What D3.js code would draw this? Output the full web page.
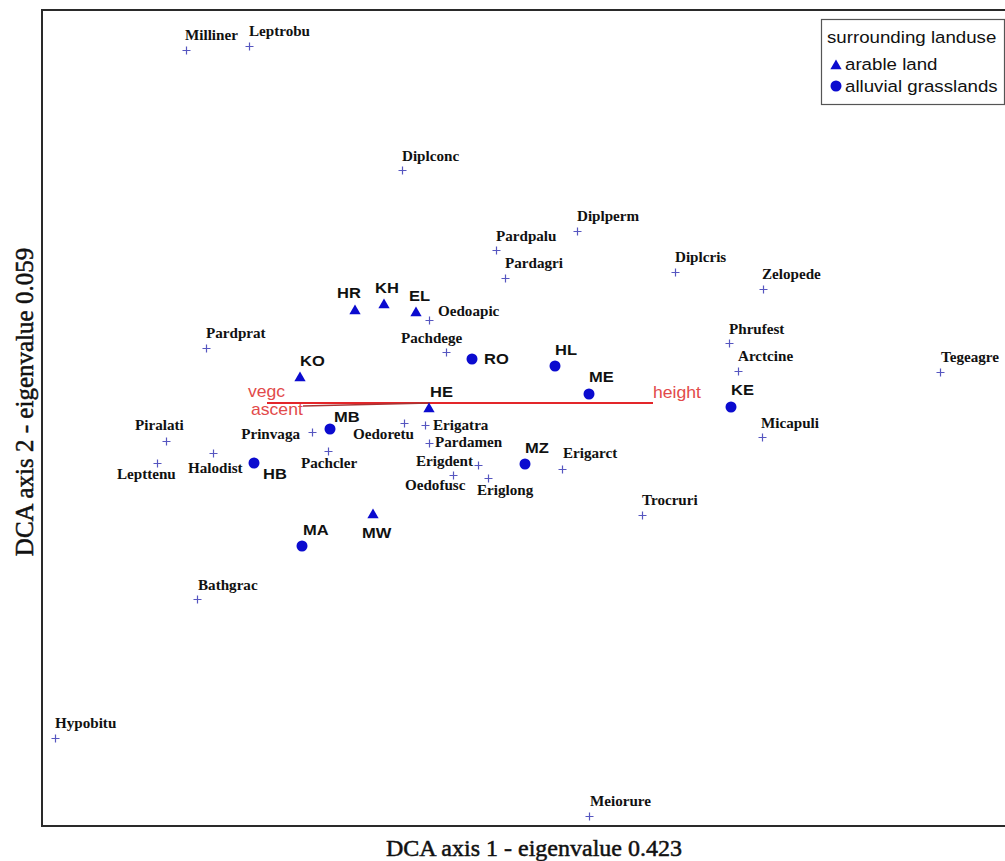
<!DOCTYPE html>
<html>
<head>
<meta charset="utf-8">
<script src="https://cdn.jsdelivr.net/npm/d3@7"></script>
<style>
  html, body { margin: 0; padding: 0; background: #fff; }
  svg { display: block; }
</style>
</head>
<body>
<svg id="chart" width="1005" height="861"></svg>
<script>
// DCA ordination: species scores (crosses)
const speciesNames = ["Milliner","Leptrobu","Diplconc","Pardpalu","Pardagri","Diplperm","Diplcris","Zelopede",
  "Oedoapic","Pardprat","Pachdege","Phrufest","Arctcine","Tegeagre","Micapuli","Piralati","Lepttenu","Halodist",
  "Prinvaga","Pachcler","Oedoretu","Erigatra","Pardamen","Erigdent","Oedofusc","Eriglong","Erigarct","Trocruri",
  "Bathgrac","Hypobitu","Meiorure"];
const speciesAxis1 = [0.72,1.035,1.80,2.27,2.315,2.675,3.165,3.605,
  1.935,0.82,2.02,3.435,3.48,4.49,3.60,0.62,0.575,0.855,
  1.35,1.43,1.81,1.915,1.935,2.18,2.055,2.23,2.60,3.00,
  0.775,0.065,2.735];
const speciesAxis2 = [3.88,3.90,3.28,2.88,2.74,2.975,2.77,2.685,
  2.53,2.39,2.37,2.415,2.275,2.27,1.945,1.925,1.815,1.865,
  1.97,1.875,2.015,2.005,1.915,1.805,1.755,1.74,1.785,1.555,
  1.135,0.44,0.05];

// Sample sites, grouped by surrounding land use
const siteNames = ["HR","KH","EL","KO","HE","MW","RO","HL","ME","KE","MZ","MB","HB","MA"];
const siteAxis1 = [1.565,1.71,1.87,1.29,1.935,1.655,2.15,2.565,2.735,3.445,2.415,1.44,1.06,1.30];
const siteAxis2 = [2.575,2.605,2.565,2.24,2.085,1.555,2.335,2.30,2.16,2.095,1.81,1.985,1.815,1.40];
const siteLanduse = ["arable","arable","arable","arable","arable","arable",
  "alluvial","alluvial","alluvial","alluvial","alluvial","alluvial","alluvial","alluvial"];

// Environmental variables (fitted vectors from the centroid)
const envNames = ["height","vegc","ascent"];
const envAxis1 = [3.055,1.125,1.305];
const envAxis2 = [2.115,2.115,2.1];
const envOrigin = [1.94, 2.115];

const legendTitle = "surrounding landuse";
const legendLabels = {arable: "arable land", alluvial: "alluvial grasslands"};
const xTitle = "DCA axis 1 - eigenvalue 0.423";
const yTitle = "DCA axis 2 - eigenvalue 0.059";

// ---- layout ----
const svg = d3.select("#chart");
const x = d3.scaleLinear().domain([0, 4.815]).range([42, 1005]);
const y = d3.scaleLinear().domain([0, 4.08]).range([826, 10]);

// label placement: [dx, dy, anchor]
const speciesLabelPos = {
  Milliner:[-1,-10], Leptrobu:[0,-10], Diplconc:[0,-9], Pardpalu:[0,-9], Pardagri:[0,-10],
  Diplperm:[0,-10], Diplcris:[0,-10], Zelopede:[-1,-10], Oedoapic:[9,-4], Pardprat:[0,-10],
  Pachdege:[-45,-9], Phrufest:[0,-9], Arctcine:[0,-10], Tegeagre:[1,-10], Micapuli:[-1,-9],
  Piralati:[-31,-11], Lepttenu:[-40,16], Halodist:[-25,20], Prinvaga:[-12,7,"end"],
  Pachcler:[-27,17], Oedoretu:[-51,16], Erigatra:[8,5], Pardamen:[6,4], Erigdent:[-5,1,"end"],
  Oedofusc:[-48,15], Eriglong:[-11,17], Erigarct:[1,-11], Trocruri:[0,-10], Bathgrac:[1,-9],
  Hypobitu:[0,-10], Meiorure:[1,-10]
};
const siteLabelPos = {
  HR:[-18,-13], KH:[-9,-12], EL:[-7,-12], KO:[0,-12], HE:[1,-12], MW:[-11,23],
  RO:[12,5], HL:[0,-11], ME:[0,-12], KE:[0,-12], MZ:[0,-11], MB:[4,-7], HB:[9,16], MA:[1,-11]
};
const envLabelPos = { height:[0,-5], vegc:[-19,-6], ascent:[-52,9] };

const markColor = "#0b0bcf";
const crossColor = "#5656c0";
const envColor = "#e3262a";
const envLabelColor = "#e24a4a";

// text with a slight horizontal widening
function placeText(g, tx, ty, sx, txt, anchor) {
  return g.append("text")
    .attr("transform", `translate(${tx},${ty}) scale(${sx},1)`)
    .attr("text-anchor", anchor || "start")
    .text(txt);
}

// frame (left, top, bottom)
svg.append("path")
  .attr("d", `M${x.range()[1] + 2},${y.range()[1]} H${x.range()[0]} V${y.range()[0]} H${x.range()[1] + 2}`)
  .attr("fill", "none").attr("stroke", "#2a2a2a").attr("stroke-width", 2);

// environmental vectors
const envG = svg.append("g");
envNames.forEach((n, i) => {
  envG.append("line")
    .attr("x1", x(envOrigin[0])).attr("y1", y(envOrigin[1]))
    .attr("x2", x(envAxis1[i])).attr("y2", y(envAxis2[i]))
    .attr("stroke", n === "ascent" ? "#a83434" : envColor)
    .attr("stroke-width", n === "ascent" ? 1.4 : 2);
});
const envText = svg.append("g")
  .attr("font-family", "'Liberation Sans', Arial, sans-serif")
  .attr("font-size", 16).attr("fill", envLabelColor);
envNames.forEach((n, i) => {
  const p = envLabelPos[n];
  placeText(envText, x(envAxis1[i]) + p[0], y(envAxis2[i]) + p[1], 1.1, n);
});

// species crosses
const sp = speciesNames.map((n, i) => ({name: n, a1: speciesAxis1[i], a2: speciesAxis2[i]}));
svg.append("g").selectAll("path").data(sp).join("path")
  .attr("d", d => {
    const cx = Math.round(x(d.a1)) + 0.5, cy = Math.round(y(d.a2)) + 0.5;
    return `M${cx - 4},${cy}H${cx + 4}M${cx},${cy - 4}V${cy + 4}`;
  })
  .attr("stroke", crossColor).attr("stroke-width", 1.2).attr("fill", "none");

const spText = svg.append("g")
  .attr("font-family", "'Liberation Serif', 'Times New Roman', serif")
  .attr("font-weight", "bold").attr("font-size", 14).attr("fill", "#111");
sp.forEach(d => {
  const p = speciesLabelPos[d.name];
  placeText(spText, x(d.a1) + p[0], y(d.a2) + p[1], 1.08, d.name, p[2]);
});

// sites
const triangle = d3.symbol().type(d3.symbolTriangle).size(55);
const circle = d3.symbol().type(d3.symbolCircle).size(95);
const sites = siteNames.map((n, i) => ({name: n, a1: siteAxis1[i], a2: siteAxis2[i], lu: siteLanduse[i]}));
svg.append("g").selectAll("path").data(sites).join("path")
  .attr("transform", d => `translate(${x(d.a1)},${y(d.a2)})`)
  .attr("d", d => d.lu === "arable" ? triangle() : circle())
  .attr("fill", markColor);

const siteText = svg.append("g")
  .attr("font-family", "'Liberation Sans', Arial, sans-serif")
  .attr("font-weight", "bold").attr("font-size", 15).attr("fill", "#111");
sites.forEach(d => {
  const p = siteLabelPos[d.name];
  placeText(siteText, x(d.a1) + p[0], y(d.a2) + p[1], 1.1, d.name);
});

// legend
const lg = svg.append("g").attr("transform", "translate(821,19)");
lg.append("rect").attr("x", 0.5).attr("y", 0.5).attr("width", 183).attr("height", 85)
  .attr("fill", "#fff").attr("stroke", "#555").attr("stroke-width", 1.2);
const lgText = lg.append("g")
  .attr("font-family", "'Liberation Sans', Arial, sans-serif")
  .attr("font-size", 17).attr("fill", "#111");
placeText(lgText, 6, 24, 1.1, legendTitle);
lg.append("path").attr("transform", "translate(15,47)").attr("d", triangle()).attr("fill", markColor);
placeText(lgText, 24, 51, 1.1, legendLabels.arable);
lg.append("path").attr("transform", "translate(15,67)").attr("d", circle()).attr("fill", markColor);
placeText(lgText, 24, 73, 1.1, legendLabels.alluvial);

// axis titles
svg.append("text")
  .attr("x", 534).attr("y", 856).attr("text-anchor", "middle")
  .attr("font-family", "'Liberation Serif', 'Times New Roman', serif")
  .attr("font-size", 24).attr("fill", "#111")
  .attr("stroke", "#111").attr("stroke-width", 0.5)
  .text(xTitle);
svg.append("text")
  .attr("transform", "translate(33,402) rotate(-90)").attr("text-anchor", "middle")
  .attr("font-family", "'Liberation Serif', 'Times New Roman', serif")
  .attr("font-size", 25).attr("fill", "#111")
  .attr("stroke", "#111").attr("stroke-width", 0.5)
  .text(yTitle);
</script>
</body>
</html>
